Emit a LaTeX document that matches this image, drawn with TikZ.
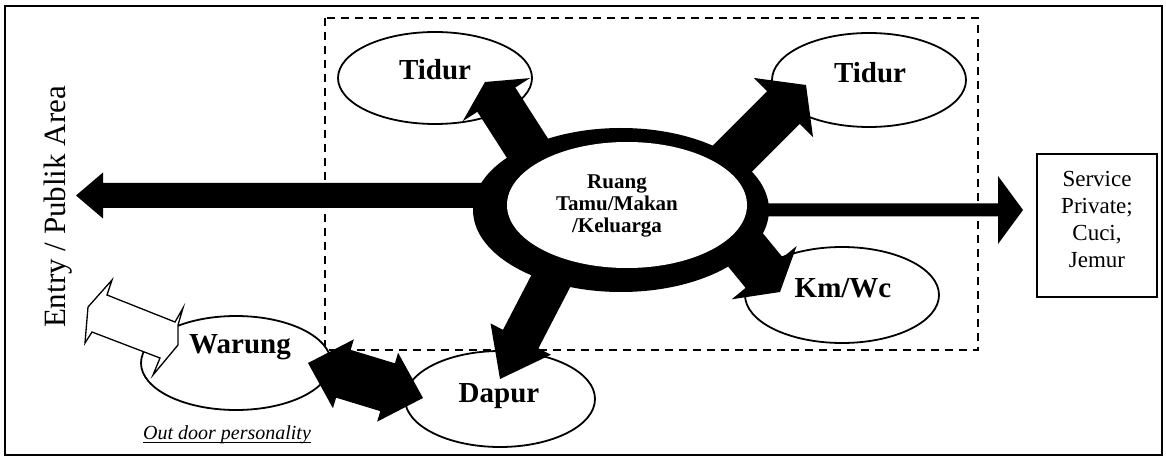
\documentclass[tikz,border=0pt]{standalone}
\usepackage{fontspec}
\setmainfont{Liberation Serif}[
  BoldFont=Liberation Serif Bold,
  ItalicFont=Liberation Serif Italic]
\usetikzlibrary{calc,shapes.geometric}

% Thick block arrow: #1 start, #2 tip, #3 shaft half width, #4 head half width, #5 head length
\newcommand\blockarrow[5]{%
  \coordinate (ba-h) at ($(#2)!#5!(#1)$);
  \fill ($(#1)!#3!90:(#2)$) -- ($(ba-h)!#3!90:(#2)$) -- ($(ba-h)!#4!90:(#2)$) -- (#2)
     -- ($(ba-h)!#4!-90:(#2)$) -- ($(ba-h)!#3!-90:(#2)$) -- ($(#1)!#3!-90:(#2)$) -- cycle;
}

\begin{document}
\begin{tikzpicture}[x=1pt,y=-1pt,
  lbl/.style={font=\fontsize{29}{33}\selectfont\bfseries, inner sep=0, anchor=base},
  room/.style={ellipse, draw, line width=1.8pt, fill=white, inner sep=0},
  zone/.style={line width=1.5pt, dash pattern=on 8pt off 6pt}]
\useasboundingbox (0,0) rectangle (1166,462);

% frame and private zone
\draw[line width=1.5pt] (5,6) rectangle (1162,455);
\draw[zone] (325,18) rectangle (978,350);

% black ring of the central room
\node[ellipse, fill=black, minimum width=296pt, minimum height=164pt, inner sep=0] (ring) at (621,210) {};

% rooms
\node[room, minimum width=194pt, minimum height=92pt] (tidurA) at (435,78) {};
\node[room, minimum width=194pt, minimum height=94pt] (tidurB) at (869,80) {};
\node[room, minimum width=194pt, minimum height=96pt] (kmwc) at (842,295) {};
\node[room, minimum width=190pt, minimum height=96pt] (dapur) at (500,399) {};
\node[room, minimum width=190pt, minimum height=94pt] (warung) at (236,363) {};

% service box
\node[draw, line width=1.5pt, minimum width=120pt, minimum height=143pt, inner sep=0] (svc) at (1097,225.5) {};

% arrow ends
\coordinate (ringW) at (600,195.5);  \coordinate (entry) at (76,195.5);
\coordinate (ringE) at (640,210);    \coordinate (svcW) at (1023,210);
\coordinate (ringNW) at (560,199);   \coordinate (tidurAtip) at (485,82);
\coordinate (ringNE) at (686,205);   \coordinate (tidurBtip) at (806,85);
\coordinate (ringSE) at (698,192);   \coordinate (kmwcTip) at (780,292);
\coordinate (ringS) at (583,219);    \coordinate (dapurTip) at (500,379);

\blockarrow{ringW}{entry}{12.5pt}{23pt}{27pt}
\blockarrow{ringE}{svcW}{6.5pt}{34pt}{25pt}
\blockarrow{ringNW}{tidurAtip}{22.5pt}{40pt}{21pt}
\blockarrow{ringNE}{tidurBtip}{23pt}{42pt}{32pt}
\blockarrow{ringSE}{kmwcTip}{24pt}{42pt}{25pt}
\blockarrow{ringS}{dapurTip}{20pt}{34pt}{45pt}

% double arrow between Warung and Dapur
\coordinate (wd1) at (308,363); \coordinate (wd2) at (423,398);
\coordinate (wdh1) at ($(wd1)!37pt!(wd2)$);
\coordinate (wdh2) at ($(wd2)!37pt!(wd1)$);
\fill (wd1) -- ($(wdh1)!36pt!90:(wd2)$) -- ($(wdh1)!25pt!90:(wd2)$)
  -- ($(wdh2)!25pt!-90:(wd1)$) -- ($(wdh2)!36pt!-90:(wd1)$) -- (wd2)
  -- ($(wdh2)!36pt!90:(wd1)$) -- ($(wdh2)!25pt!90:(wd1)$)
  -- ($(wdh1)!25pt!-90:(wd2)$) -- ($(wdh1)!36pt!-90:(wd2)$) -- cycle;

% hollow arrow out of the Warung
\draw[line width=1.3pt, fill=white] (107,295) -- (112,280) -- (88,307) -- (85,343) -- (92,332)
  -- (160,358) -- (153,375) -- (178,345) -- (178,325) -- (183,308) -- (175,322) -- cycle;

% white core of the central room
\node[ellipse, fill=white, minimum width=240pt, minimum height=126pt, inner sep=0] (ruang) at (627,205) {};

% texts
\node[font=\fontsize{21}{22}\selectfont\bfseries, align=center, inner sep=0] (ruangtxt) at (617,205.5) {Ruang\\Tamu/Makan\\/Keluarga};
\node[lbl] (tA) at (435,80) {Tidur};
\node[lbl] (tB) at (870,83) {Tidur};
\node[lbl] (tK) at (843,297) {Km/Wc};
\node[lbl] (tW) at (240,353) {Warung};
\node[lbl] (tD) at (499,402) {Dapur};
\node[rotate=90, font=\fontsize{31}{36}\selectfont, inner sep=0] (entrytxt) at (58,207) {Entry / Publik Area};
\node[font=\fontsize{23}{27}\selectfont, align=center, inner sep=0] (svctxt) at (1097,219) {Service\\Private;\\Cuci,\\Jemur};
\node[font=\fontsize{20}{24}\selectfont\itshape, inner sep=0, anchor=base] (outdoor) at (227,439) {Out door personality};
\draw[line width=0.8pt] ($(outdoor.base west)+(0,3)$) -- ($(outdoor.base east)+(0,3)$);
\end{tikzpicture}
\end{document}
